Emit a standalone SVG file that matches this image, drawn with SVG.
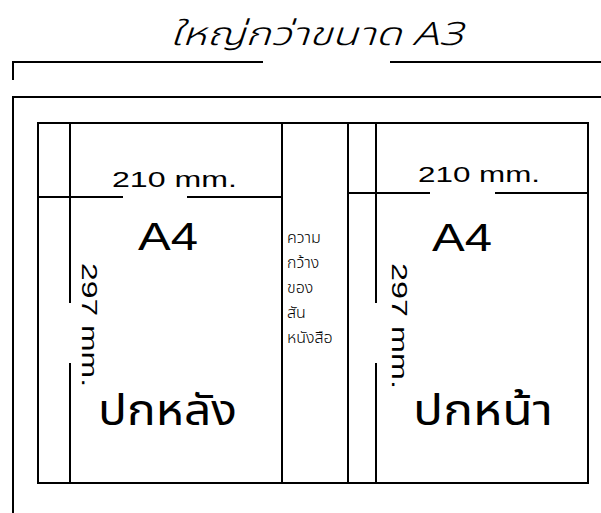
<svg xmlns="http://www.w3.org/2000/svg" width="601" height="513" viewBox="0 0 601 513">
<style>
.ln{stroke:#000;stroke-width:2;fill:none}
.en{font-family:"Liberation Sans",Arial,sans-serif;fill:#000}
.th{font-family:"Noto Sans Thai","Noto Sans","Noto Sans Thai Looped",sans-serif;fill:#000}
</style>
<rect width="601" height="513" fill="#fff"/>
<g id="title">
<text class="th" x="170" y="45" font-size="32" font-style="italic" font-weight="300" textLength="293" lengthAdjust="spacingAndGlyphs">ใหญ่กว่าขนาด A3</text>
</g>
<g id="connectors">
<path class="ln" d="M13,80 V62 H263 M390,62 H601"/>
<path class="ln" d="M13,513 V97 H601"/>
<rect class="ln" x="38" y="123" width="550" height="360"/>
<path class="ln" d="M282,123 V483 M348,123 V483"/>
<path class="ln" d="M70,123 V303 M70,363 V483 M376,123 V303 M376,363 V483"/>
<path class="ln" d="M38,197 H123 M187,197 H282 M348,193 H430 M495,193 H588"/>
</g>
<g id="back-cover">
<text class="en" x="112" y="187" font-size="22" textLength="125" lengthAdjust="spacingAndGlyphs">210 mm.</text>
<text class="en" x="138" y="250" font-size="39" textLength="60" lengthAdjust="spacingAndGlyphs">A4</text>
<text class="en" transform="translate(82,263) rotate(90)" font-size="22" textLength="124" lengthAdjust="spacingAndGlyphs">297 mm.</text>
<text class="th" x="98" y="425" font-size="42" textLength="139" lengthAdjust="spacingAndGlyphs">ปกหลัง</text>
</g>
<g id="spine">
<text class="th" font-size="16" font-weight="300">
<tspan x="287" y="243">ความ</tspan>
<tspan x="287" y="268">กว้าง</tspan>
<tspan x="287" y="293">ของ</tspan>
<tspan x="287" y="318">สัน</tspan>
<tspan x="287" y="343">หนังสือ</tspan>
</text>
</g>
<g id="front-cover">
<text class="en" x="418" y="182" font-size="22" textLength="122" lengthAdjust="spacingAndGlyphs">210 mm.</text>
<text class="en" x="432" y="251" font-size="39" textLength="60" lengthAdjust="spacingAndGlyphs">A4</text>
<text class="en" transform="translate(392,263) rotate(90)" font-size="22" textLength="126" lengthAdjust="spacingAndGlyphs">297 mm.</text>
<text class="th" x="413" y="425" font-size="42" textLength="140" lengthAdjust="spacingAndGlyphs">ปกหน้า</text>
</g>
</svg>
